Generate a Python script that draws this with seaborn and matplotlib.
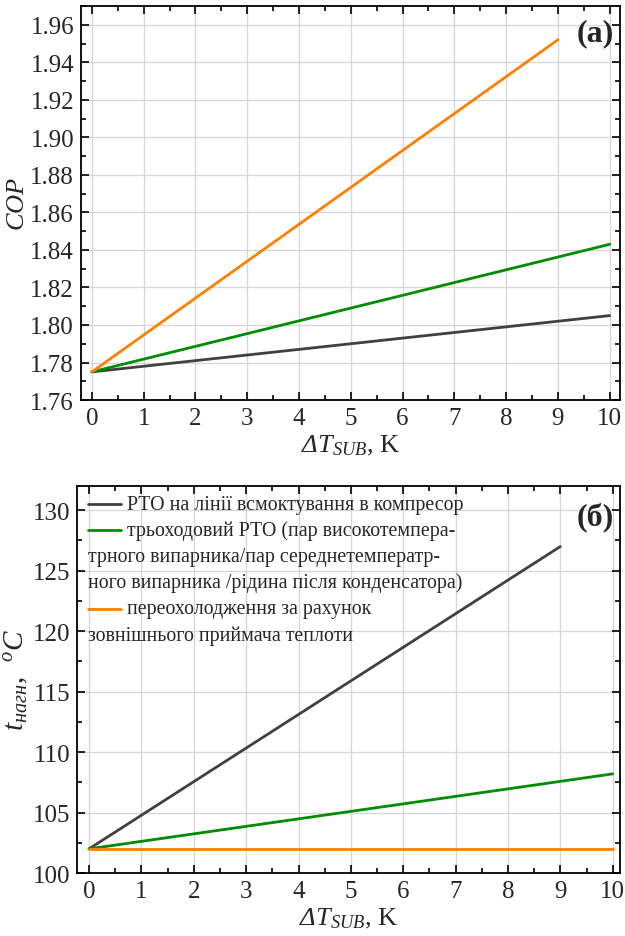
import pandas as pd
import seaborn as sns
import matplotlib.pyplot as plt
from matplotlib.ticker import MultipleLocator

# Data
series_names = ["suction", "three_way", "subcool"]
colors = ["#404040", "#008c00", "#ff8000"]

cop_x = [[0, 10], [0, 10], [0, 9]]
cop_y = [[1.775, 1.805], [1.775, 1.843], [1.775, 1.952]]

t_x = [[0, 9], [0, 10], [0, 10]]
t_y = [[102.0, 127.0], [102.0, 108.2], [102.0, 102.0]]

legend_rows = [
    (0, "РТО на лінії всмоктування в компресор"),
    (1, "трьоходовий РТО (пар високотемпера-"),
    (None, "трного випарника/пар середнетемператр-"),
    (None, "ного випарника /рідина після конденсатора)"),
    (2, "переохолодження за рахунок"),
    (None, "зовнішнього приймача теплоти"),
]

xlabel = r"$ΔT_{SUB}$, K"
ylabel_a = r"$COP$"
ylabel_b = r"$t_{нагн}$,  $^{o}C$"


def to_long(xs, ys):
    rows = []
    for name, xx, yy in zip(series_names, xs, ys):
        for a, b in zip(xx, yy):
            rows.append({"x": a, "y": b, "series": name})
    return pd.DataFrame(rows)


df_cop = to_long(cop_x, cop_y)
df_t = to_long(t_x, t_y)
palette = dict(zip(series_names, colors))

sns.set_style("ticks")
plt.rcParams["font.family"] = ["Liberation Serif", "DejaVu Serif"]
plt.rcParams["mathtext.fontset"] = "custom"
plt.rcParams["mathtext.rm"] = "Liberation Serif:italic"
plt.rcParams["mathtext.it"] = "Liberation Serif:italic"
plt.rcParams["mathtext.bf"] = "Liberation Serif:bold"

fig = plt.figure(figsize=(6.25, 9.37), dpi=100)
ax1 = fig.add_axes([0.1296, 0.572, 0.8624, 0.4205])
ax2 = fig.add_axes([0.1232, 0.0672, 0.868, 0.413])


def style_axes(ax, ylim, ymajor, yminor, fmt):
    ax.set_xlim(-0.21, 10.2)
    ax.set_ylim(*ylim)
    ax.xaxis.set_major_locator(MultipleLocator(1))
    ax.xaxis.set_minor_locator(MultipleLocator(0.5))
    ax.yaxis.set_major_locator(MultipleLocator(ymajor))
    ax.yaxis.set_minor_locator(MultipleLocator(yminor))
    ax.yaxis.set_major_formatter(fmt)
    ax.grid(True, which="major", color="#d6d6d6", lw=0.9)
    ax.set_axisbelow(True)
    ax.tick_params(which="both", direction="in", top=True, right=True,
                   labelsize=18, color="black", pad=5)
    ax.tick_params(which="major", length=6, width=1.2)
    ax.tick_params(which="minor", length=3.5, width=1.2)
    for s in ax.spines.values():
        s.set_linewidth(1.3)
        s.set_color("black")
    ax.set_xlabel(xlabel, fontsize=19, labelpad=3)


# (a) COP
sns.lineplot(data=df_cop, x="x", y="y", hue="series", palette=palette,
             linewidth=2.0, legend=False, ax=ax1, estimator=None)
style_axes(ax1, (1.76, 1.97), 0.02, 0.01, "{x:.2f}")
ax1.set_ylabel(ylabel_a, fontsize=19, labelpad=1)
ax1.text(0.989, 0.931, "(a)", transform=ax1.transAxes, ha="right", va="center",
         fontsize=23, fontweight="bold")

# (б) discharge temperature
sns.lineplot(data=df_t, x="x", y="y", hue="series", palette=palette,
             linewidth=2.0, legend=False, ax=ax2, estimator=None)
style_axes(ax2, (100, 132), 5, 2.5, "{x:.0f}")
ax2.set_xlim(-0.23, 10.13)
ax2.set_ylabel(ylabel_b, fontsize=21, labelpad=1)
ax2.text(0.989, 0.922, "(б)", transform=ax2.transAxes, ha="right", va="center",
         fontsize=23, fontweight="bold")

# legend drawn by hand so wrapped lines start under the handle
row_h = 0.0675
y0 = 0.953
for i, (ci, txt) in enumerate(legend_rows):
    yy = y0 - i * row_h
    if ci is None:
        ax2.text(0.02, yy, txt, transform=ax2.transAxes, va="center",
                 fontsize=14.3)
    else:
        ax2.plot([0.02, 0.082], [yy, yy], transform=ax2.transAxes,
                 color=colors[ci], lw=2.0)
        ax2.text(0.093, yy, txt, transform=ax2.transAxes, va="center",
                 fontsize=14.3)

fig.savefig("out.png", dpi=100)
